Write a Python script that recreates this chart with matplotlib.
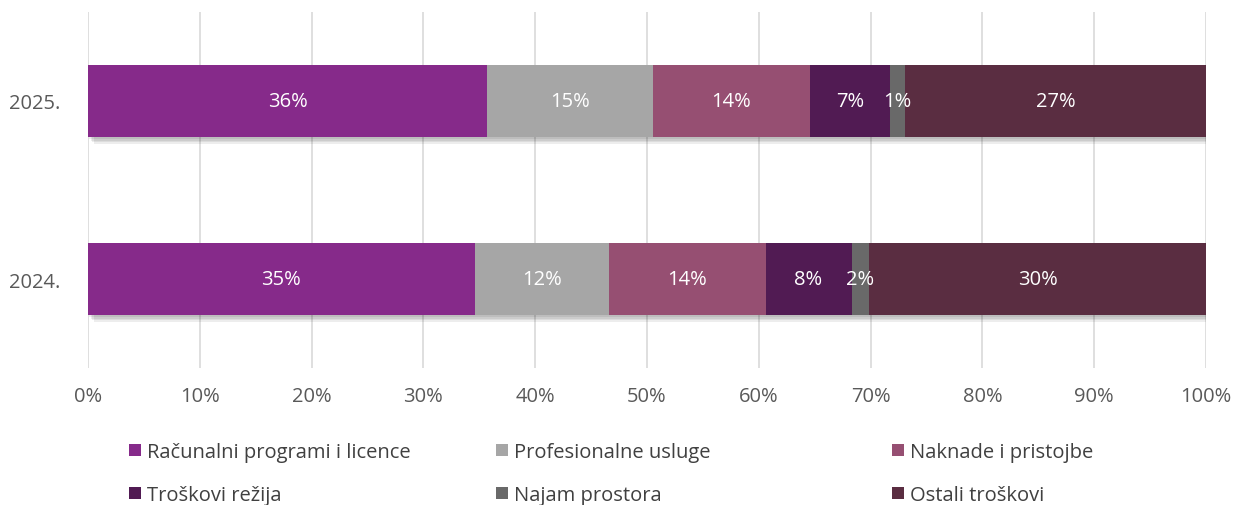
import numpy as np
import matplotlib
matplotlib.use("Agg")
import matplotlib.pyplot as plt
import matplotlib.patheffects as pe
from matplotlib.patches import Patch

plt.rcParams['font.family'] = ['Open Sans', 'DejaVu Sans']

# data
years = ["2024.", "2025."]
categories = ["Računalni programi i licence", "Profesionalne usluge", "Naknade i pristojbe",
              "Troškovi režija", "Najam prostora", "Ostali troškovi"]
values_2024 = [34.6, 12.0, 14.0, 7.7, 1.6, 30.1]
values_2025 = [35.7, 14.8, 14.1, 7.1, 1.4, 26.9]
labels_2024 = ["35%", "12%", "14%", "8%", "2%", "30%"]
labels_2025 = ["36%", "15%", "14%", "7%", "1%", "27%"]
colors = ["#862A8A", "#A6A6A6", "#964F72", "#511B53", "#696969", "#5A2D41"]

fig = plt.figure(figsize=(12.35, 5.06), dpi=100)
ax = fig.add_axes([88/1235, 1 - 369/506, (1206 - 88)/1235, 356/506])

vals = np.array([values_2024, values_2025])
labs = [labels_2024, labels_2025]
left = np.zeros(2)
# soft drop shadow, built from a few faint offset copies
shadow = [pe.SimplePatchShadow(offset=(o, -o - 1), shadow_rgbFace='#000000', alpha=0.07)
          for o in (1, 2, 3, 4)] + [pe.Normal()]
for i in range(len(categories)):
    bars = ax.barh([0, 1], vals[:, i], left=left, height=0.4, color=colors[i], zorder=3)
    for b in bars:
        b.set_path_effects(shadow)
    for j in range(2):
        ax.text(left[j] + vals[j, i] / 2, j, labs[j][i], ha='center', va='center',
                color='white', fontsize=14.5, zorder=5)
    left += vals[:, i]

ax.set_xlim(0, 100)
ax.set_ylim(-0.5, 1.5)
ax.set_xticks(np.arange(0, 101, 10))
ax.set_xticklabels([f"{t}%" for t in range(0, 101, 10)])
ax.set_yticks([0, 1])
ax.set_yticklabels(years)
ax.grid(axis='x', color='#D9D9D9', linewidth=1.2, zorder=0)
ax.set_axisbelow(True)
for s in ax.spines.values():
    s.set_visible(False)
ax.tick_params(length=0, labelsize=14.5, colors='#595959')
ax.tick_params(axis='x', pad=13)
ax.tick_params(axis='y', pad=20)

# legend in three columns
xs = [129/1235, 496/1235, 892/1235]
for k in range(3):
    handles = [Patch(facecolor=colors[k]), Patch(facecolor=colors[k + 3])]
    names = [categories[k], categories[k + 3]]
    leg = fig.legend(handles, names, loc='upper left', bbox_to_anchor=(xs[k], 1 - 443/506),
                     frameon=False, fontsize=14.5, handlelength=0.6, handleheight=0.6,
                     handletextpad=0.3, labelspacing=1.15, borderaxespad=0, borderpad=0)
    for t in leg.get_texts():
        t.set_color('#404040')

fig.savefig("out.png", dpi=100)
